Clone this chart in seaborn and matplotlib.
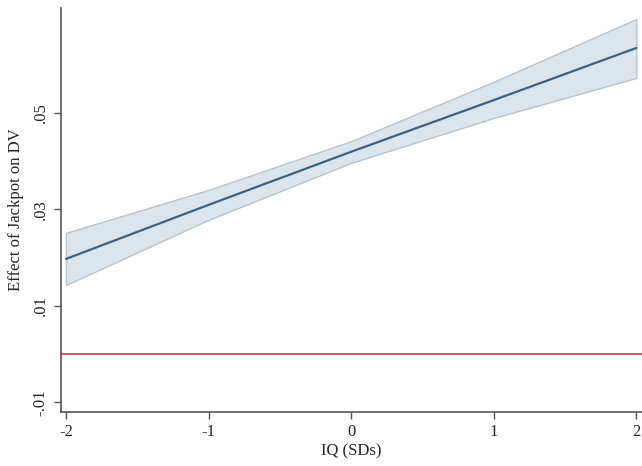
import numpy as np
import pandas as pd
import seaborn as sns
from matplotlib import pyplot as plt

iq = [-2, -1, 0, 1, 2]
effect = [0.0197, 0.0309, 0.0419, 0.0526, 0.0634]
ci_low = [0.0143, 0.0278, 0.0396, 0.0489, 0.0572]
ci_high = [0.0251, 0.0340, 0.0441, 0.0564, 0.0694]

y_ticks = [-0.01, 0.01, 0.03, 0.05]
y_labels = ['-.01', '.01', '.03', '.05']
x_ticks = [-2, -1, 0, 1, 2]

frame = pd.DataFrame({'iq': iq, 'effect': effect, 'lo': ci_low, 'hi': ci_high})

sns.set_style('white')
plt.rcParams['font.family'] = ['Liberation Serif', 'DejaVu Serif']

fig = plt.figure(figsize=(6.42, 4.66), dpi=100)
ax = fig.add_axes([0.095, 0.116, 0.905, 0.867])

ax.fill_between(frame.iq, frame.lo, frame.hi, facecolor='#dde5ec',
                edgecolor='#b9c3cc', linewidth=1.0, zorder=1)
sns.lineplot(ax=ax, data=frame, x='iq', y='effect', color='#3d6283',
             linewidth=1.6, zorder=3)
ax.axhline(0, color='#d8445f', linewidth=1.3, zorder=2)

ax.set_xlim(-2.035, 2.04)
ax.set_ylim(-0.012, 0.0717)
ax.set_xticks(x_ticks)
ax.set_xticklabels([str(t) for t in x_ticks], fontsize=12)
ax.set_yticks(y_ticks)
ax.set_yticklabels(y_labels, fontsize=12, rotation=90, va='center')
ax.set_xlabel('IQ (SDs)', fontsize=12, labelpad=2)
ax.set_ylabel('Effect of Jackpot on DV', fontsize=12, labelpad=6)

for side in ['top', 'right']:
    ax.spines[side].set_visible(False)
for side in ['left', 'bottom']:
    ax.spines[side].set_color('#555555')
    ax.spines[side].set_linewidth(1.2)
ax.tick_params(axis='both', which='major', length=5, width=1.0,
               color='#555555', direction='out', bottom=True, left=True, pad=4)

fig.savefig('out.png', dpi=100)
